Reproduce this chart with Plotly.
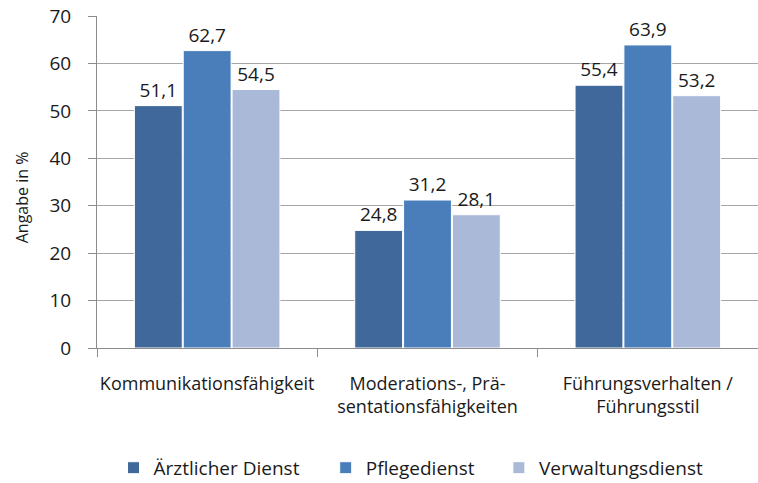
import plotly.graph_objects as go

categories = ["Kommunikationsfähigkeit", "Moderations-, Prä-<br>sentationsfähigkeiten", "Führungsverhalten /<br>Führungsstil"]
series_names = ["Ärztlicher Dienst", "Pflegedienst", "Verwaltungsdienst"]
aerztlich = [51.1, 24.8, 55.4]
pflege = [62.7, 31.2, 63.9]
verwaltung = [54.5, 28.1, 53.2]
colors = ["#41689A", "#4A7EBB", "#AAB9D7"]
legend_ids = ["legend", "legend2", "legend3"]
legend_x = [0.025, 0.346, 0.608]

FONT = "Open Sans, Noto Sans, sans-serif"

fig = go.Figure()
for name, vals, col, lid in zip(series_names, [aerztlich, pflege, verwaltung], colors, legend_ids):
    fig.add_trace(go.Bar(
        x=categories, y=vals, name=name, legend=lid,
        marker=dict(color=col, line=dict(color="white", width=1)),
        text=[f"{v:.1f}".replace(".", ",") for v in vals],
        textposition="outside", cliponaxis=False,
        textfont=dict(size=19, color="#1a1a1a"),
    ))

fig.add_annotation(
    text="Angabe in %", textangle=-90, xref="paper", yref="paper",
    x=-0.113, y=0.455, xanchor="center", yanchor="middle", showarrow=False,
    font=dict(size=16, color="#1a1a1a"),
)

legend_style = dict(orientation="h", xanchor="left", y=-0.361, yanchor="middle",
                    font=dict(size=19), bgcolor="rgba(0,0,0,0)")

fig.update_layout(
    width=758, height=490,
    margin=dict(l=97, r=0, t=16, b=142),
    paper_bgcolor="white", plot_bgcolor="white",
    barmode="group", bargap=0.335, bargroupgap=0.02,
    font=dict(family=FONT, size=18, color="#1a1a1a"),
    showlegend=True,
    legend=dict(x=legend_x[0], **legend_style),
    legend2=dict(x=legend_x[1], **legend_style),
    legend3=dict(x=legend_x[2], **legend_style),
    hovermode=False,
)
fig.update_yaxes(
    range=[0, 70], dtick=10, showgrid=True, gridcolor="#A6A6A6", gridwidth=1,
    showline=True, linecolor="#8C8C8C", ticks="outside", ticklen=8, tickcolor="#8C8C8C",
    tickfont=dict(size=19), zeroline=False, automargin=False, ticklabelstandoff=13,
    ticklabeloverflow="allow",
)
fig.update_xaxes(
    showline=True, linecolor="#8C8C8C", ticks="outside", tickson="boundaries",
    ticklen=8, tickcolor="#8C8C8C", tickfont=dict(size=18), automargin=False,
    ticklabelstandoff=19, ticklabeloverflow="allow", tickangle=0,
)

fig.write_html("out.html", config={"displayModeBar": False},
               post_script="document.body.style.margin='0';")
